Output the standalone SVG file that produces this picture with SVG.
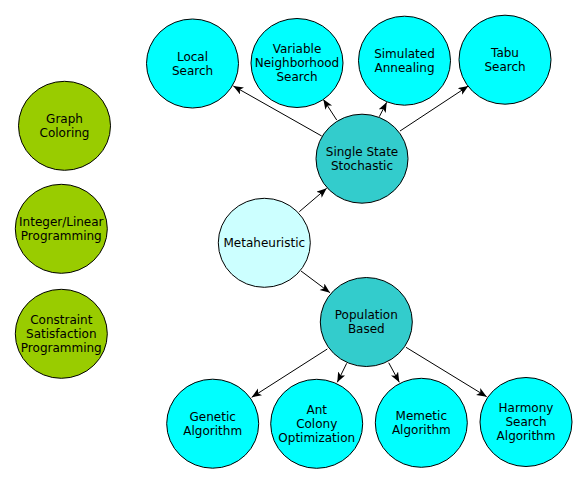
<svg xmlns="http://www.w3.org/2000/svg" width="588" height="483" viewBox="0 0 588 483">
<style>
.n{stroke:#000;stroke-width:1}
.c1{fill:#00ffff}
.c2{fill:#33cccc}
.c3{fill:#ccffff}
.c4{fill:#99cc00}
text{font-family:"DejaVu Sans",sans-serif;font-size:12px;fill:#000;text-anchor:middle}
.e{stroke:#000;stroke-width:1;fill:none;marker-end:url(#arr)}
</style>
<defs>
<marker id="arr" markerUnits="userSpaceOnUse" markerWidth="12" markerHeight="10" refX="10" refY="4" orient="auto">
<path d="M0,0 L10,4 L0,8 L2.5,4 z" fill="#000"/>
</marker>
</defs>
<rect width="588" height="483" fill="#fff"/>
<g id="edges">
<line class="e" x1="321.7" y1="136" x2="233.3" y2="86"/>
<line class="e" x1="336.7" y1="120" x2="323.3" y2="99.3"/>
<line class="e" x1="379.3" y1="116.7" x2="386.7" y2="102.3"/>
<line class="e" x1="400" y1="131" x2="468.3" y2="86"/>
<line class="e" x1="299.3" y1="211.7" x2="326.7" y2="188.3"/>
<line class="e" x1="301" y1="271" x2="330" y2="292.7"/>
<line class="e" x1="327.3" y1="349" x2="251.7" y2="397.3"/>
<line class="e" x1="346.7" y1="363.3" x2="337.3" y2="382.3"/>
<line class="e" x1="388.7" y1="362.7" x2="399.3" y2="382.3"/>
<line class="e" x1="406" y1="347.3" x2="486.7" y2="396.7"/>
</g>
<g id="local"><ellipse class="n c1" cx="192.5" cy="63.5" rx="46" ry="44.5"/><text x="192.5" y="61">Local</text><text x="192.5" y="75">Search</text></g>
<g id="vns"><ellipse class="n c1" cx="297" cy="63" rx="46" ry="44.5"/><text x="297" y="53.4">Variable</text><text x="297" y="67.4">Neighborhood</text><text x="297" y="81.4">Search</text></g>
<g id="sa"><ellipse class="n c1" cx="404.5" cy="60.7" rx="46" ry="44.5"/><text x="404.5" y="58">Simulated</text><text x="404.5" y="72">Annealing</text></g>
<g id="tabu"><ellipse class="n c1" cx="505" cy="59.7" rx="46" ry="44.5"/><text x="505" y="57">Tabu</text><text x="505" y="71">Search</text></g>
<g id="ss"><ellipse class="n c2" cx="362" cy="158.7" rx="46" ry="44.5"/><text x="362" y="156">Single State</text><text x="362" y="170">Stochastic</text></g>
<g id="meta"><ellipse class="n c3" cx="264.3" cy="242.8" rx="46" ry="44.5"/><text x="264.3" y="247.2">Metaheuristic</text></g>
<g id="pop"><ellipse class="n c2" cx="366.3" cy="322" rx="46" ry="44.5"/><text x="366.3" y="319.4">Population</text><text x="366.3" y="333.4">Based</text></g>
<g id="genetic"><ellipse class="n c1" cx="212.7" cy="423.7" rx="46" ry="44.5"/><text x="212.7" y="421">Genetic</text><text x="212.7" y="435">Algorithm</text></g>
<g id="ant"><ellipse class="n c1" cx="316.7" cy="423.8" rx="46" ry="44.5"/><text x="316.7" y="414">Ant</text><text x="316.7" y="428">Colony</text><text x="316.7" y="442">Optimization</text></g>
<g id="memetic"><ellipse class="n c1" cx="421.3" cy="422.8" rx="46" ry="44.5"/><text x="421.3" y="420.2">Memetic</text><text x="421.3" y="434.2">Algorithm</text></g>
<g id="harmony"><ellipse class="n c1" cx="526" cy="422" rx="46" ry="44.5"/><text x="526" y="411.9">Harmony</text><text x="526" y="425.9">Search</text><text x="526" y="439.9">Algorithm</text></g>
<g id="graph"><ellipse class="n c4" cx="64.5" cy="125.8" rx="46" ry="44.5"/><text x="64.5" y="123.2">Graph</text><text x="64.5" y="137.2">Coloring</text></g>
<g id="intlin"><ellipse class="n c4" cx="61.3" cy="228.8" rx="46" ry="44.5"/><text x="61.3" y="226.2">Integer/Linear</text><text x="61.3" y="240.2">Programming</text></g>
<g id="csp"><ellipse class="n c4" cx="61.3" cy="333.8" rx="46" ry="44.5"/><text x="61.3" y="324">Constraint</text><text x="61.3" y="338">Satisfaction</text><text x="61.3" y="352">Programming</text></g>
</svg>
